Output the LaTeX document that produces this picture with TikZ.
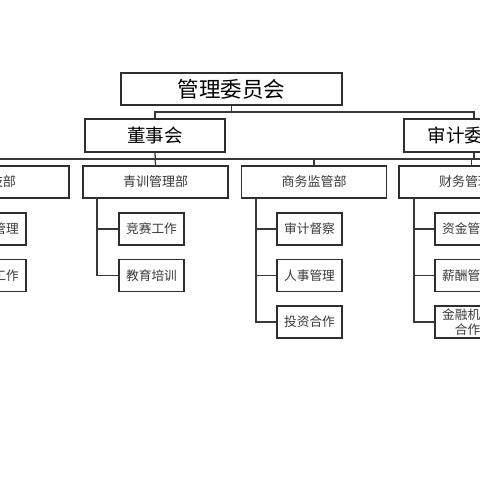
\documentclass[tikz,border=0pt]{standalone}
\usepackage{fontspec}
\newfontfamily\cjk{Noto Sans CJK SC}
\definecolor{boxc}{HTML}{2E2E2E}
\definecolor{linec}{HTML}{383838}
\definecolor{txtc}{HTML}{3A3A3A}
\begin{document}
\begin{tikzpicture}[x=1pt,y=-1pt,
  box/.style={draw=boxc, line width=1.5pt, rectangle, inner sep=0pt, text=txtc, align=center},
  topbox/.style={box, minimum width=221pt, minimum height=32pt, font=\cjk\fontsize{21.5}{23}\selectfont, text=black},
  midbox/.style={box, minimum width=140pt, minimum height=33pt, font=\cjk\fontsize{18.5}{20}\selectfont, text=black},
  deptbox/.style={box, minimum width=145pt, minimum height=32pt, font=\cjk\fontsize{13}{15}\selectfont},
  subbox/.style={box, minimum width=65pt, minimum height=32pt, font=\cjk\fontsize{12.7}{14}\selectfont},
  conn/.style={draw=linec, line width=1.3pt}]
\useasboundingbox (0,0) rectangle (480,480);
\fill[white] (0,0) rectangle (480,480);
\clip (0,0) rectangle (480,480);

\node[topbox] (top) at (231.5,89) {管理委员会};
\node[midbox] (dsh) at (155,135.5) {董事会};
\node[midbox] (sjw) at (474,135.5) {审计委员会};

\node[deptbox] (d1) at (-3.5,182) {竞技部};
\node[deptbox] (d2) at (155.5,182) {青训管理部};
\node[deptbox] (d3) at (314,182) {商务监管部};
\node[deptbox] (d4) at (471.5,182) {财务管理部};

\node[subbox] (s11) at (-6.5,229) {训练管理};
\node[subbox] (s12) at (-6.5,275.5) {外联工作};
\node[subbox] (s21) at (151.5,229) {竞赛工作};
\node[subbox] (s22) at (151.5,275.5) {教育培训};
\node[subbox] (s31) at (309.5,229) {审计督察};
\node[subbox] (s32) at (309.5,275.5) {人事管理};
\node[subbox] (s33) at (309.5,322) {投资合作};
\node[subbox] (s41) at (467.5,229) {资金管理};
\node[subbox] (s42) at (467.5,275.5) {薪酬管理};
\node[subbox, font=\cjk\fontsize{12.7}{15}\selectfont] (s43) at (467.5,322) {金融机构\\合作};

\coordinate (bus1) at (0,112);
\coordinate (bus2) at (0,159);
\coordinate (bus2end) at (490,159);

\draw[conn] (top.south) -- (top.south |- bus1);
\draw[conn] (dsh.north) -- (dsh.north |- bus1) -| (sjw.north);
\draw[conn] (d1.north) -- (d1.north |- bus2) -- (bus2end);
\draw[conn] (dsh.south) -- (d2.north);
\draw[conn] (d3.north) -- (d3.north |- bus2);
\draw[conn] (d4.north) -- (d4.north |- bus2);
\draw[conn] (sjw.south) -- (sjw.south |- bus2);

\coordinate (v1) at (-62,198);
\coordinate (v2) at (97,198);
\coordinate (v3) at (256,198);
\coordinate (v4) at (414,198);

\draw[conn] (v1) |- (s11.west);
\draw[conn] (v1) |- (s12.west);
\draw[conn] (v2) |- (s21.west);
\draw[conn] (v2) |- (s22.west);
\draw[conn] (v3) |- (s31.west);
\draw[conn] (v3) |- (s32.west);
\draw[conn] (v3) |- (s33.west);
\draw[conn] (v4) |- (s41.west);
\draw[conn] (v4) |- (s42.west);
\draw[conn] (v4) |- (s43.west);
\end{tikzpicture}
\end{document}
